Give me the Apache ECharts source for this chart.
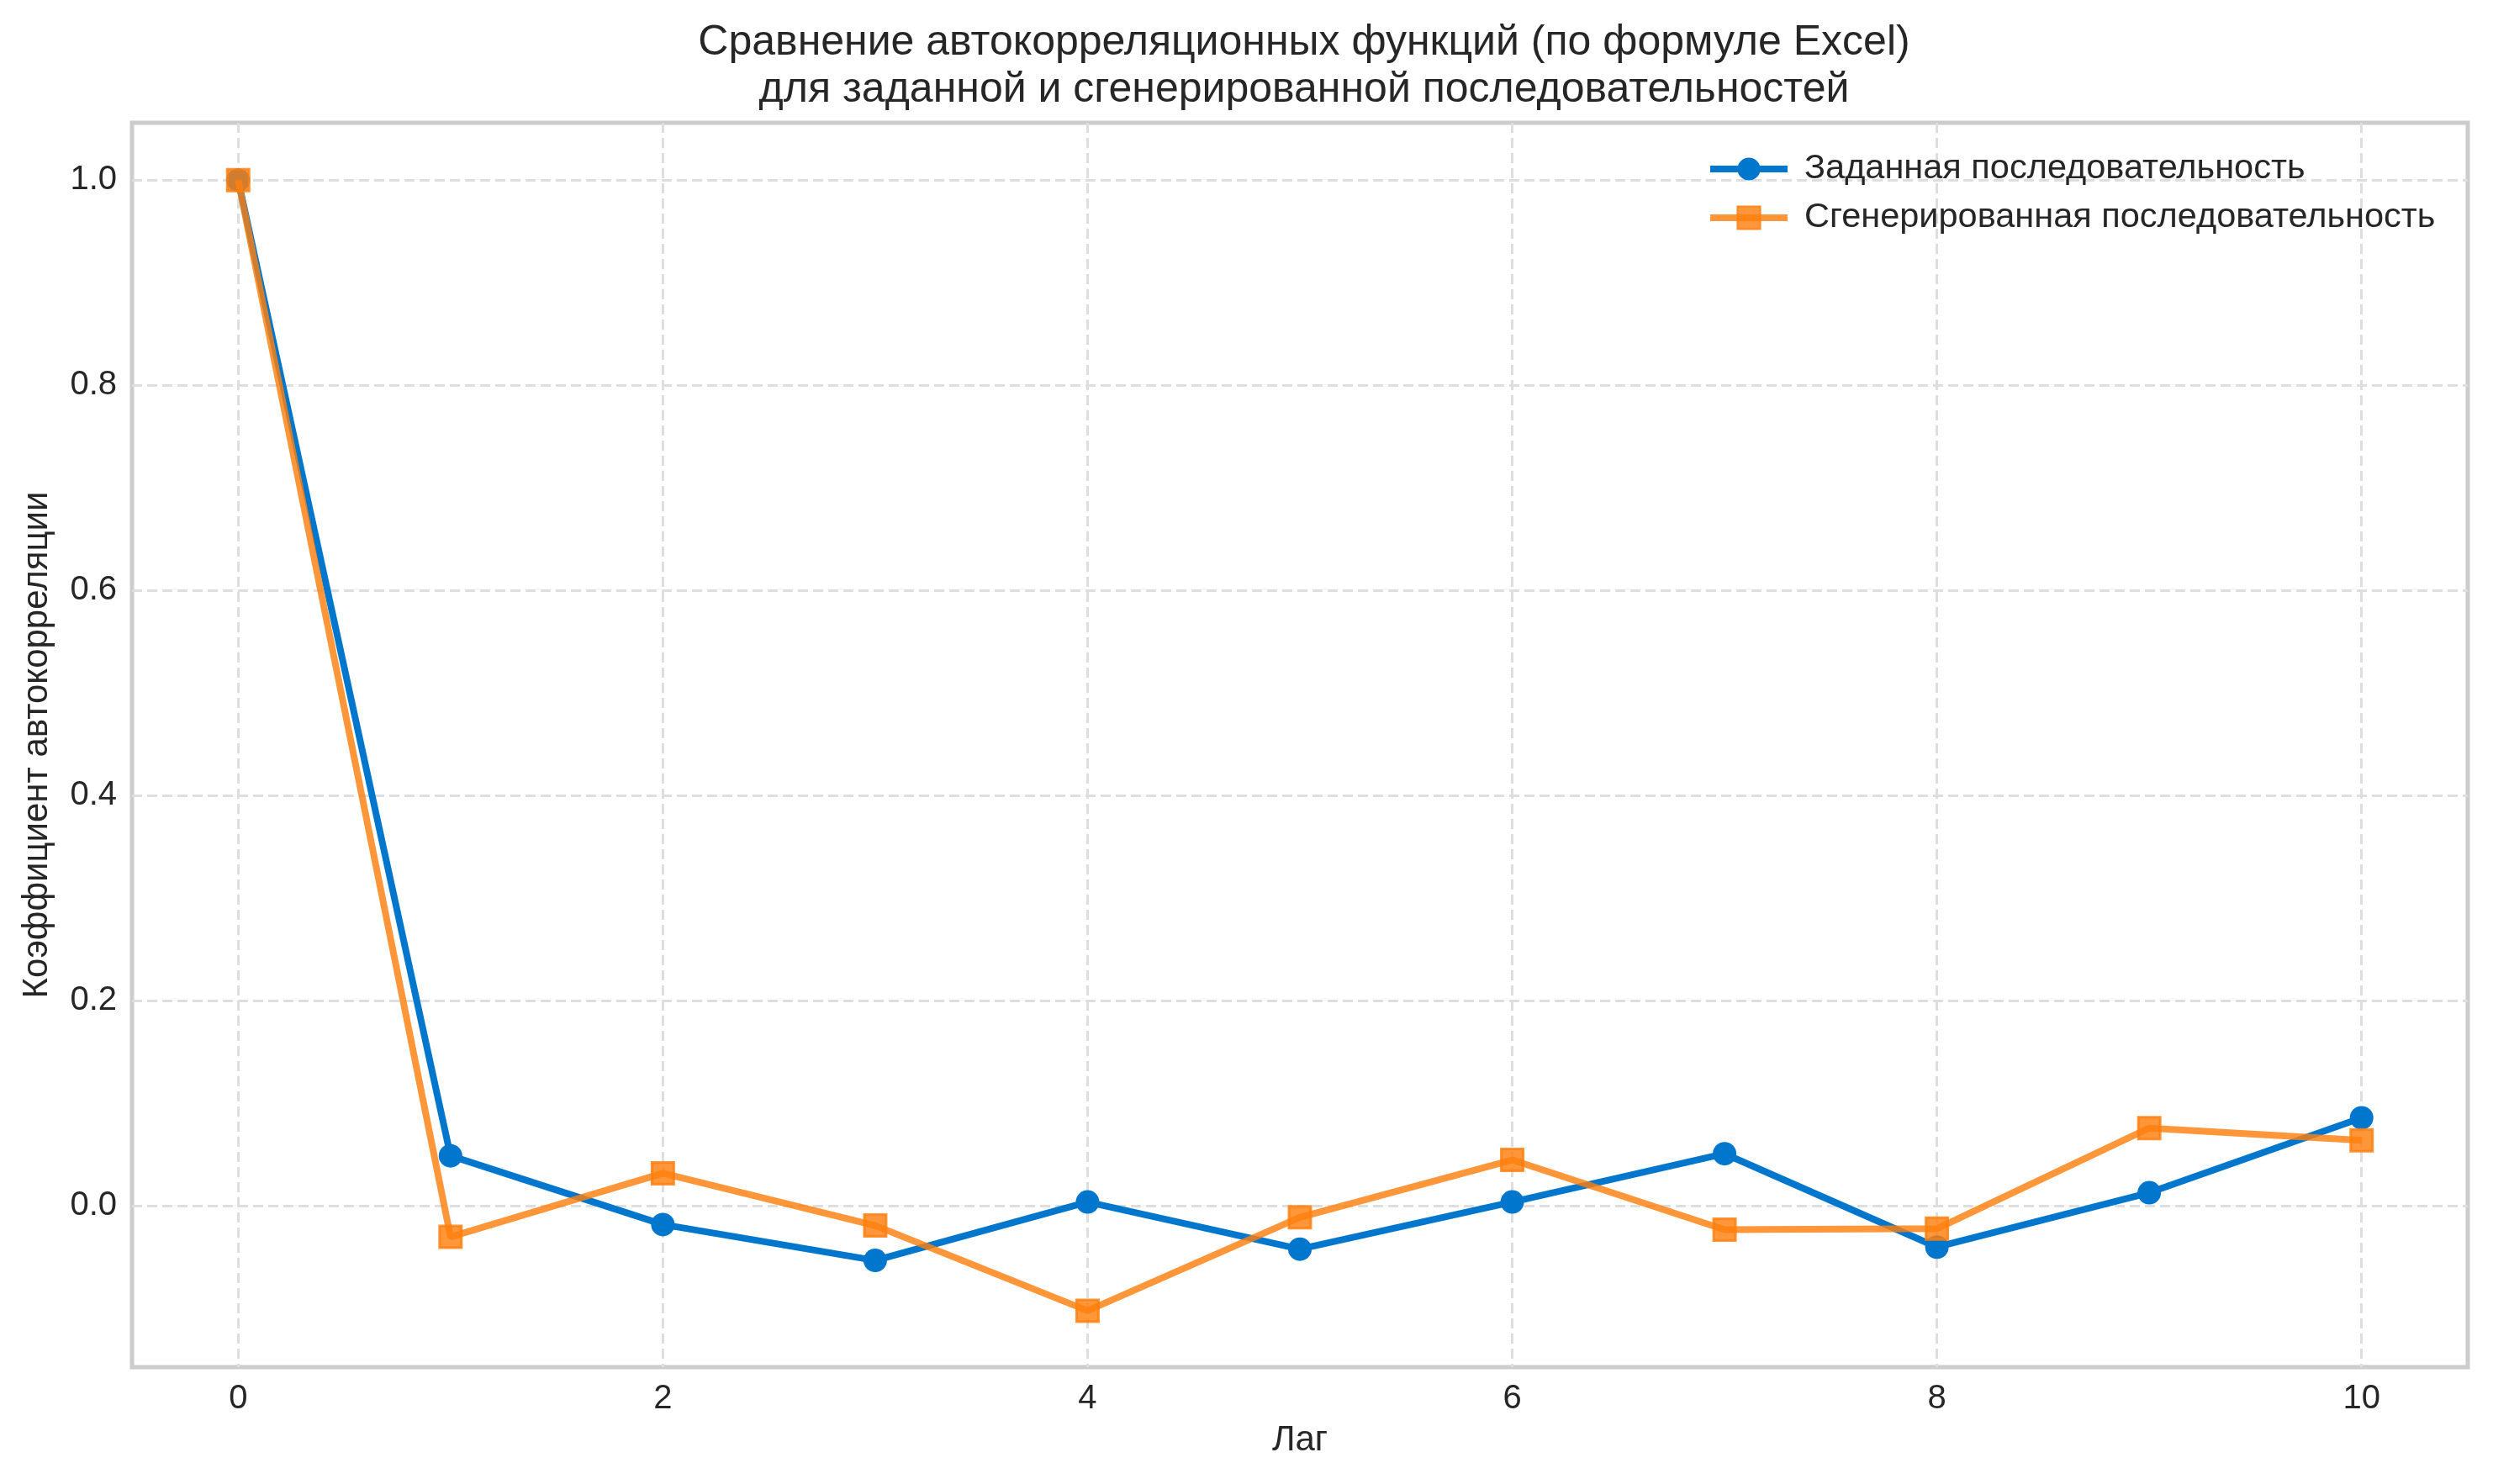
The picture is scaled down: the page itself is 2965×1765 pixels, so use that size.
<!DOCTYPE html>
<html>
<head>
<meta charset="utf-8">
<script src="https://cdn.jsdelivr.net/npm/echarts@6/dist/echarts.min.js"></script>
<style>
html, body { margin: 0; padding: 0; background: #fff; }
#chart { width: 2965px; height: 1765px; }
</style>
</head>
<body>
<div id="chart"></div>
<script>
// lags and autocorrelation values
var lags = [0, 1, 2, 3, 4, 5, 6, 7, 8, 9, 10];
var givenAcf = [1.0, 0.049, -0.018, -0.053, 0.004, -0.042, 0.004, 0.051, -0.040, 0.013, 0.086];
var generatedAcf = [1.0, -0.030, 0.032, -0.019, -0.102, -0.011, 0.045, -0.023, -0.022, 0.076, 0.064];
var xTicks = [0, 2, 4, 6, 8, 10];
var yTicks = [0, 0.2, 0.4, 0.6, 0.8, 1.0];

var font = "'Liberation Sans', Arial, sans-serif";
var textColor = '#262626';

function pairs(ys) {
    return lags.map(function (x, i) { return [x, ys[i]]; });
}

var gridLine = {
    show: true,
    lineStyle: { color: '#dedede', width: 3, type: [12, 6] }
};

var option = {
    backgroundColor: '#ffffff',
    animation: false,
    title: {
        text: 'Сравнение автокорреляционных функций (по формуле Excel)\nдля заданной и сгенерированной последовательностей',
        left: 1546,
        top: 18,
        textAlign: 'center',
        textStyle: {
            fontFamily: font,
            fontSize: 50,
            fontWeight: 'normal',
            color: textColor,
            lineHeight: 56
        }
    },
    legend: {
        orient: 'vertical',
        left: 2025,
        top: 174,
        itemWidth: 92,
        itemHeight: 34,
        itemGap: 14,
        lineStyle: { width: 8 },
        textStyle: {
            fontFamily: font,
            fontSize: 41.5,
            color: textColor,
            lineHeight: 44,
            padding: [0, 0, 0, 15]
        },
        data: ['Заданная последовательность', 'Сгенерированная последовательность']
    },
    grid: {
        left: 157,
        right: 30,
        top: 146,
        bottom: 139,
        show: true,
        borderColor: '#cccccc',
        borderWidth: 5,
        containLabel: false
    },
    xAxis: {
        type: 'value',
        min: -0.5,
        max: 10.5,
        name: 'Лаг',
        nameLocation: 'middle',
        nameGap: 66,
        nameTextStyle: { fontFamily: font, fontSize: 42, color: textColor },
        axisLine: { show: false },
        axisTick: { show: false, customValues: xTicks },
        axisLabel: {
            customValues: xTicks,
            margin: 18,
            fontFamily: font,
            fontSize: 40,
            color: textColor
        },
        splitLine: gridLine
    },
    yAxis: {
        type: 'value',
        min: -0.157,
        max: 1.056,
        name: 'Коэффициент автокорреляции',
        nameLocation: 'middle',
        nameGap: 92,
        nameTextStyle: { fontFamily: font, fontSize: 42, color: textColor },
        axisLine: { show: false },
        axisTick: { show: false, customValues: yTicks },
        axisLabel: {
            customValues: yTicks,
            margin: 18,
            fontFamily: font,
            fontSize: 40,
            color: textColor,
            formatter: function (v) { return v.toFixed(1); }
        },
        splitLine: gridLine
    },
    series: [{
        name: 'Заданная последовательность',
        type: 'line',
        z: 3,
        symbol: 'circle',
        symbolSize: 28,
        lineStyle: { color: '#0077cc', width: 8 },
        itemStyle: { color: '#0077cc' },
        data: pairs(givenAcf)
    }, {
        name: 'Сгенерированная последовательность',
        type: 'line',
        z: 4,
        symbol: 'rect',
        symbolSize: 26,
        lineStyle: { color: '#ff7f0e', width: 8, opacity: 0.82 },
        itemStyle: { color: '#ff7f0e', opacity: 0.82, borderColor: '#ff7f0e', borderWidth: 3 },
        data: pairs(generatedAcf)
    }]
};

var myChart = echarts.init(document.getElementById('chart'));
myChart.setOption(option);
</script>
</body>
</html>
